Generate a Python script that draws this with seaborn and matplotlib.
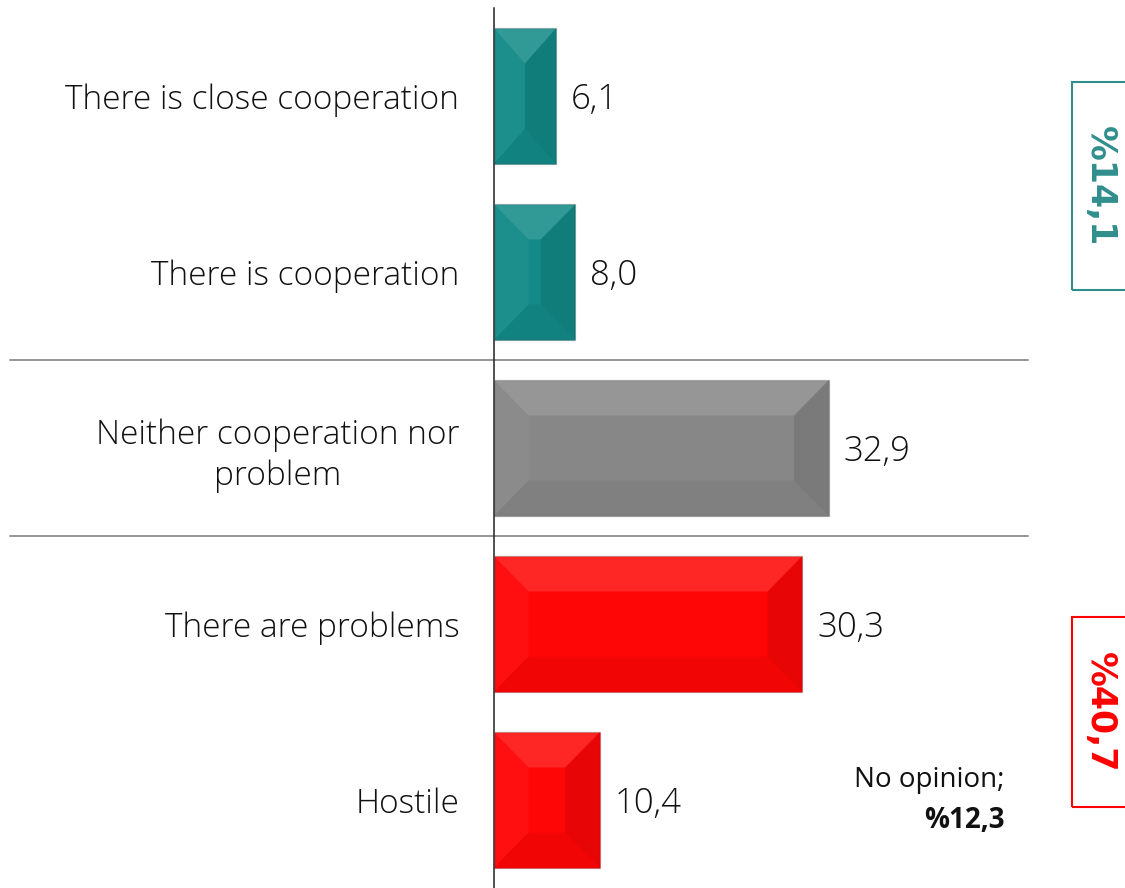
import matplotlib

matplotlib.use("Agg")

import matplotlib.pyplot as plt
import pandas as pd
import seaborn as sns
from matplotlib.patches import Polygon, Rectangle

CATEGORIES = [
    "There is close cooperation",
    "There is cooperation",
    "Neither cooperation nor\nproblem",
    "There are problems",
    "Hostile",
]
VALUES = [6.1, 8.0, 32.9, 30.3, 10.4]
BAR_COLORS = ["#138A87", "#138A87", "#878787", "#FF0606", "#FF0606"]
POSITIVE_TOTAL = "%14,1"
NEGATIVE_TOTAL = "%40,7"
NO_OPINION = "%12,3"

TEAL = "#2F8E8C"
RED = "#FF0000"


def fmt(v: float) -> str:
    return f"{v:.1f}".replace(".", ",")


def add_bevel(ax, patch, dx_max=3.4, dy=0.2):
    """Fake the bevelled look of the original chart on top of a seaborn bar."""
    x0, y0 = patch.get_x(), patch.get_y()
    w, h = patch.get_width(), patch.get_height()
    dx = min(dx_max, w / 2)
    x1, y1 = x0 + w, y0 + h
    faces = [
        ([(x0, y0), (x1, y0), (x1 - dx, y0 + dy), (x0 + dx, y0 + dy)], "white", 0.13),
        ([(x0, y1), (x1, y1), (x1 - dx, y1 - dy), (x0 + dx, y1 - dy)], "black", 0.05),
        ([(x0, y0), (x0 + dx, y0 + dy), (x0 + dx, y1 - dy), (x0, y1)], "white", 0.04),
        ([(x1, y0), (x1 - dx, y0 + dy), (x1 - dx, y1 - dy), (x1, y1)], "black", 0.09),
    ]
    for pts, col, alpha in faces:
        ax.add_patch(Polygon(pts, closed=True, facecolor=col, alpha=alpha,
                             edgecolor="none", zorder=3))


sns.set_style("white")
plt.rcParams["font.family"] = ["Open Sans", "DejaVu Sans"]
plt.rcParams["font.weight"] = "light"

df = pd.DataFrame({"category": CATEGORIES, "value": VALUES})

fig = plt.figure(figsize=(11.25, 8.88), dpi=100)
ax = fig.add_axes([494 / 1125, 0, 534 / 1125, 880 / 888])

sns.barplot(
    data=df,
    x="value",
    y="category",
    hue="category",
    palette=BAR_COLORS,
    saturation=1,
    order=CATEGORIES,
    hue_order=CATEGORIES,
    orient="h",
    width=0.77,
    legend=False,
    edgecolor="#00000030",
    linewidth=1,
    ax=ax,
)

bars = [p for p in ax.patches if p.get_width() > 0]
for patch in bars:
    add_bevel(ax, patch)
    ax.annotate(fmt(patch.get_width()),
                (patch.get_x() + patch.get_width(), patch.get_y() + patch.get_height() / 2),
                xytext=(15, -4), textcoords="offset pixels", ha="left", va="center",
                fontsize=25, color="#111111")

ax.set_xlim(0, 52.5)
ax.set_ylim(len(CATEGORIES) - 0.5, -0.5)
ax.set_xlabel("")
ax.set_ylabel("")
ax.set_xticks([])

for side in ["top", "right", "bottom"]:
    ax.spines[side].set_visible(False)
ax.spines["left"].set_color("#222222")
ax.spines["left"].set_linewidth(1.1)

ax.tick_params(axis="y", which="major", length=0, pad=25, labelsize=24,
               labelcolor="#111111")
for lbl in ax.get_yticklabels():
    lbl.set_multialignment("center")
    lbl.set_linespacing(1.3)
ax.set_yticks([i - 0.5 for i in range(len(CATEGORIES) + 1)], minor=True)
ax.tick_params(axis="y", which="minor", length=7, width=1, color="#222222",
               direction="out")

# group separators across labels and plot area
for y in [1.5, 2.5]:
    ax.axhline(y, xmin=-0.906, xmax=1.0, color="#8C8C8C", linewidth=1.3,
               clip_on=False, zorder=1)

# group totals on the right
for (top, bottom, text, col) in [(82, 290, POSITIVE_TOTAL, TEAL),
                                 (617, 807, NEGATIVE_TOTAL, RED)]:
    fig.patches.append(Rectangle((1072 / 1125, 1 - bottom / 888), 80 / 1125,
                                 (bottom - top) / 888, transform=fig.transFigure,
                                 fill=False, edgecolor=col, linewidth=1.5))
    fig.text(1100 / 1125, 1 - (top + bottom) / 2 / 888, text, rotation=270,
             ha="center", va="center", color=col, fontsize=25,
             fontweight="bold", family="DejaVu Sans")

fig.text(1005 / 1125, 1 - 780 / 888, "No opinion;", ha="right", va="center",
         fontsize=20, fontweight="normal", color="#111111")
fig.text(1005 / 1125, 1 - 820 / 888, NO_OPINION, ha="right", va="center",
         fontsize=20, fontweight="bold", color="#111111")

fig.savefig("out.png", dpi=100)
